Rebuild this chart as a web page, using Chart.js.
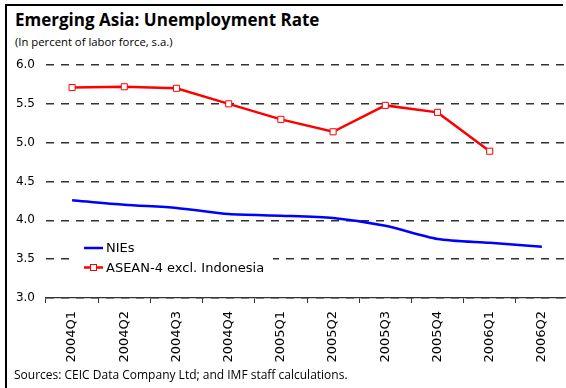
<!DOCTYPE html>
<html>
<head>
<meta charset="utf-8">
<script src="https://cdn.jsdelivr.net/npm/chart.js@4.4.0/dist/chart.umd.min.js"></script>
<style>
  html, body { margin: 0; padding: 0; background: #fff; overflow: hidden; }
  body { width: 566px; height: 388px; position: relative; font-family: "Open Sans", sans-serif; color: #000; }
  #frame { position: absolute; left: 5px; top: 4px; width: 556px; height: 400px;
           border-top: 2px solid #000; border-left: 2px solid #000; }
  #title { position: absolute; left: 15px; top: 8px; font-size: 17px; font-weight: bold; white-space: nowrap; }
  #subtitle { position: absolute; left: 15px; top: 34px; font-size: 11.3px; white-space: nowrap; }
  #source { position: absolute; left: 14px; top: 366px; font-size: 12px; white-space: nowrap; }
  #chart { position: absolute; left: 0; top: 0; }
</style>
</head>
<body>
<div id="frame"></div>
<div id="title">Emerging Asia: Unemployment Rate</div>
<div id="subtitle">(In percent of labor force, s.a.)</div>
<canvas id="chart" width="600" height="388"></canvas>
<div id="source">Sources: CEIC Data Company Ltd; and IMF staff calculations.</div>
<script>
// quarterly unemployment, percent of labor force
const quarters = ['2004Q1', '2004Q2', '2004Q3', '2004Q4', '2005Q1', '2005Q2', '2005Q3', '2005Q4', '2006Q1', '2006Q2'];
const niesRate = [4.26, 4.20, 4.16, 4.08, 4.06, 4.03, 3.93, 3.76, 3.71, 3.66];
const aseanRate = [5.71, 5.72, 5.70, 5.50, 5.30, 5.14, 5.48, 5.39, 4.89, null];
const yTicks = [3.0, 3.5, 4.0, 4.5, 5.0, 5.5, 6.0];

// legend sits inside the plot, on a white box over the gridlines
const insideLegend = {
    id: 'insideLegend',
    afterDatasetsDraw(chart) {
        const ctx = chart.ctx;
        ctx.save();
        ctx.fillStyle = '#fff';
        ctx.fillRect(71, 237, 202, 42);
        ctx.font = '13px "DejaVu Sans"';
        ctx.textBaseline = 'middle';
        chart.data.datasets.forEach((ds, i) => {
            const y = 248 + i * 19.5;
            ctx.strokeStyle = ds.borderColor;
            ctx.lineWidth = ds.borderWidth;
            ctx.beginPath();
            ctx.moveTo(84, y);
            ctx.lineTo(103, y);
            ctx.stroke();
            if (ds.pointRadius > 0) {
                ctx.fillStyle = '#fff';
                ctx.lineWidth = 1;
                ctx.fillRect(90.5, y - 3, 6, 6);
                ctx.strokeRect(90.5, y - 3, 6, 6);
            }
            ctx.fillStyle = '#000';
            ctx.fillText(ds.label, 106, y + 1);
        });
        ctx.restore();
    }
};

new Chart(document.getElementById('chart'), {
    type: 'line',
    data: {
        labels: quarters,
        datasets: [
            {
                label: 'NIEs',
                data: niesRate,
                borderColor: '#0000ff',
                borderWidth: 2.5,
                pointRadius: 0,
                tension: 0.25
            },
            {
                label: 'ASEAN-4 excl. Indonesia',
                data: aseanRate,
                borderColor: '#ff0000',
                backgroundColor: '#fff',
                borderWidth: 2.5,
                pointStyle: 'rect',
                pointRadius: 4.3,
                pointBorderWidth: 1,
                tension: 0
            }
        ]
    },
    options: {
        responsive: false,
        animation: false,
        layout: { padding: { left: 0, top: 65, right: 32, bottom: 0 } },
        plugins: { legend: { display: false }, tooltip: { enabled: false } },
        scales: {
            x: {
                offset: true,
                grid: { drawOnChartArea: false, drawTicks: true, tickLength: 5, color: '#333', offset: true },
                border: { display: true, color: '#333', width: 1.3 },
                ticks: { font: { family: 'DejaVu Sans', size: 13 }, color: '#000', maxRotation: 90, minRotation: 90, padding: 8, autoSkip: false },
                afterFit: s => { s.height = 90; }
            },
            y: {
                min: 3.0,
                max: 6.0,
                afterBuildTicks: s => { s.ticks = yTicks.map(v => ({ value: v })); },
                grid: { color: '#333', lineWidth: 1.5, drawTicks: false },
                border: { display: false, dash: [8, 7] },
                ticks: { font: { family: 'DejaVu Sans', size: 12 }, color: '#000', padding: 11, callback: v => v.toFixed(1) },
                afterFit: s => { s.width = 46; }
            }
        }
    },
    plugins: [insideLegend]
});
</script>
</body>
</html>
